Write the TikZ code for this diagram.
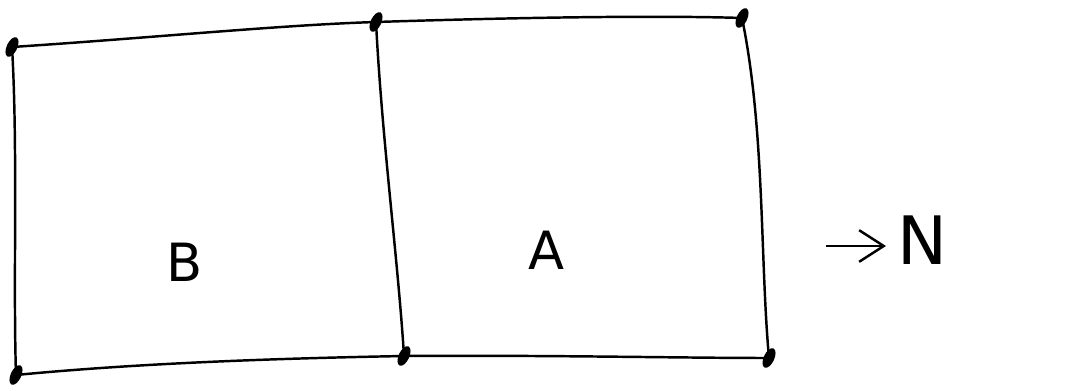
\documentclass[tikz,border=0pt]{standalone}
\usepackage{fontspec}
\setmainfont{DejaVu Sans}
\usetikzlibrary{arrows.meta}
\begin{document}
\begin{tikzpicture}[x=0.02cm,y=-0.02cm,
  edge/.style={line width=1.4pt,black},
  lbl/.style={font=\fontsize{30}{30}\selectfont}]
\useasboundingbox (0,0) rectangle (1077,391);
\coordinate (tl) at (12,47);
\coordinate (tm) at (376,22);
\coordinate (tr) at (742,18);
\coordinate (bl) at (16,375);
\coordinate (bm) at (404,356);
\coordinate (br) at (769,358);
\draw[edge] (tl) .. controls (150,38) and (280,25) .. (tm) .. controls (500,18) and (650,15) .. (tr);
\draw[edge] (bl) .. controls (150,362) and (300,358) .. (bm) .. controls (550,355) and (680,358) .. (br);
\draw[edge] (tl) .. controls (18,150) and (13,280) .. (bl);
\draw[edge] (tm) .. controls (382,140) and (398,260) .. (bm);
\draw[edge] (tr) .. controls (765,130) and (760,260) .. (br);
\foreach \p in {tl,tm,tr,bl,bm,br}
  \fill[rotate around={65:(\p)}] (\p) ellipse (6pt and 3pt);
\node[lbl] (B) at (185,262) {B};
\node[lbl] (A) at (547,250) {A};
\coordinate (as) at (826,246);
\coordinate (ae) at (886,246);
\node[font=\fontsize{38}{38}\selectfont,inner sep=1pt] (N) at (922,240) {N};
\draw[edge,-{Straight Barb[length=14pt,width=18pt,line width=1.4pt]}] (as) -- (ae);
\end{tikzpicture}
\end{document}
